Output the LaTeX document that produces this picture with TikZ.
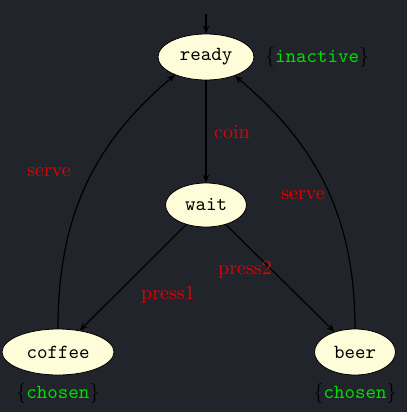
\documentclass[tikz,border=0pt]{standalone}
\usetikzlibrary{shapes.geometric,arrows.meta}
\definecolor{bgc}{HTML}{21242B}
\definecolor{fillc}{HTML}{FFFCDA}
\definecolor{grn}{HTML}{00E000}
\definecolor{rd}{HTML}{E80000}
\begin{document}
\begin{tikzpicture}[x=0.5pt,y=-0.5pt,
  state/.style={ellipse,draw=black,fill=fillc,thin,inner sep=0pt,font=\ttfamily},
  elabel/.style={text=rd,font=\rmfamily},
  tag/.style={text=black,font=\ttfamily},
  conn/.style={-{Stealth[length=4pt,width=3.2pt,inset=1.3pt]},semithick,black}]
\fill[bgc] (0,0) rectangle (407,412);
\useasboundingbox (0,0) rectangle (407,412);
\node[state,minimum width=48pt,minimum height=23pt] (ready) at (206,57) {ready};
\node[state,minimum width=40.5pt,minimum height=22pt] (wait) at (206,205) {wait};
\node[state,minimum width=56pt,minimum height=23pt] (coffee) at (58,352) {coffee};
\node[state,minimum width=40.5pt,minimum height=23pt] (beer) at (355,352) {beer};
\coordinate (init) at (206,14);
\node[tag] (tready) at (317,57) {$\{$\textcolor{grn}{inactive}$\}$};
\node[tag] (tcoffee) at (58,393) {$\{$\textcolor{grn}{chosen}$\}$};
\node[tag] (tbeer) at (355,393) {$\{$\textcolor{grn}{chosen}$\}$};
\draw[conn] (init) -- (ready);
\draw[conn] (ready) -- (wait);
\draw[conn] (wait) -- (coffee);
\draw[conn] (wait) -- (beer);
\draw[conn] (coffee.north) to[out=90,in=-140] (ready.-150);
\draw[conn] (beer.north) to[out=90,in=-40] (ready.-33);
\node[elabel] (lcoin) at (232,132) {coin};
\node[elabel] (lserve1) at (49,172) {serve};
\node[elabel] (lserve2) at (303,195) {serve};
\node[elabel] (lpress2) at (245,270) {press2};
\node[elabel] (lpress1) at (168,295) {press1};
\end{tikzpicture}
\end{document}
